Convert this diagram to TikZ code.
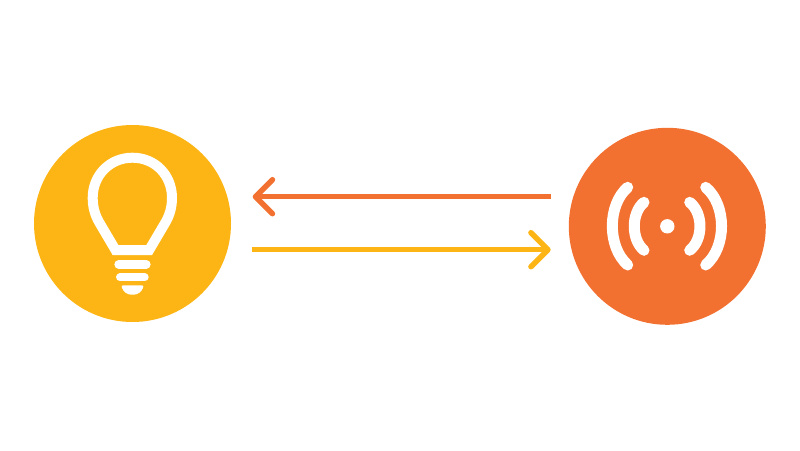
\documentclass[tikz,border=0pt]{standalone}
\usetikzlibrary{arrows.meta}
\definecolor{bulbyellow}{HTML}{FDB515}
\definecolor{signalorange}{HTML}{F27030}
\tikzset{
	disc/.style={circle,minimum size=197pt,inner sep=0pt,fill=#1},
	glyph/.style={draw=white,line width=#1,line cap=round,line join=round},
	link/.style={draw=#1,line width=5.5pt,-{Straight Barb[length=17pt,width=34pt,round]}},
}
\begin{document}
\begin{tikzpicture}[x=1pt,y=-1pt]
	\useasboundingbox (0,0) rectangle (800,450);
	\node[disc=bulbyellow] (bulb) at (132.5,223.5) {};
	\node[disc=signalorange] (signal) at (667.3,226.3) {};
	% bulb
	\draw[glyph=10pt,line join=miter] (115.5,250) -- (99,222)
		.. controls (95,215) and (92.7,207) .. (92.7,198)
		.. controls (92.7,175) and (110,157.7) .. (132.4,157.7)
		.. controls (155,157.7) and (172,175) .. (172,198)
		.. controls (172,207) and (169.7,215) .. (165.7,222)
		-- (149.2,250) -- cycle;
	\draw[glyph=8.7pt] (118.7,264.3) -- (146.3,264.3);
	\draw[glyph=8pt] (120,277.3) -- (144.7,277.3);
	\fill[white,rounded corners=1pt] (121.7,285.3) -- (143.3,285.3) -- (143.3,287)
		.. controls (141.5,292) and (137.5,294.7) .. (132.5,294.7)
		.. controls (127.5,294.7) and (123.5,292) .. (121.7,287) -- cycle;
	% signal
	\fill[white] (signal) circle (7.2);
	\draw[glyph=11pt] (644,202.3) .. controls (631,213) and (631,239.6) .. (644,250.3);
	\draw[glyph=11pt] (627.7,187.3) .. controls (607.2,205) and (607.2,247) .. (627.7,265);
	\draw[glyph=11pt] (689.7,202.3) .. controls (703.4,213) and (703.4,239.6) .. (689.7,250.3);
	\draw[glyph=11pt] (705.7,187.3) .. controls (726.8,205) and (726.8,247) .. (705.7,265);
	% arrows
	\coordinate (backstart) at (550.7,196.7);
	\coordinate (backend) at (252.7,196.7);
	\coordinate (forthstart) at (252.3,249.7);
	\coordinate (forthend) at (550.7,249.7);
	\draw[link=signalorange] (backstart) -- (backend);
	\draw[link=bulbyellow] (forthstart) -- (forthend);
\end{tikzpicture}
\end{document}
